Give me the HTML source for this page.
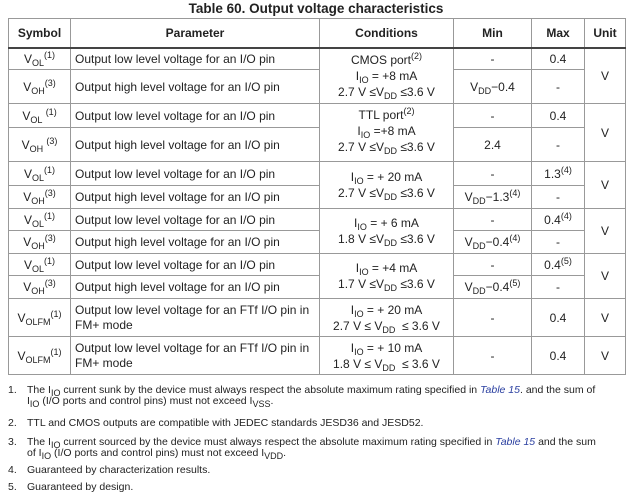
<!DOCTYPE html>
<html><head><meta charset="utf-8"><style>
body{margin:0;width:632px;height:491px;background:#fff;font-family:"Liberation Sans",Arial,sans-serif;color:#222;position:relative;overflow:hidden}
.title{position:absolute;left:0;width:632px;top:0;text-align:center;font-weight:bold;font-size:13.5px;line-height:17px}
table{position:absolute;left:8px;top:18px;border-collapse:collapse;table-layout:fixed;font-size:12px}
td,th{border:1px solid #999;padding:0 4px;text-align:center;vertical-align:middle;line-height:14px;overflow:hidden}
th{font-weight:bold;border-bottom:2px solid #444}
td.p{text-align:left}
sub{font-size:9px;vertical-align:-3px;line-height:0}
sup{font-size:9px;vertical-align:5px;line-height:0}
.notes{position:absolute;left:0;top:380px;font-size:10.5px;line-height:11px;color:#222}
.n{position:absolute;left:8px;white-space:nowrap}
.n span.t{position:absolute;left:19px}
.lk{color:#2a3fa0;font-style:italic}
</style></head><body>
<div class="title">Table 60. Output voltage characteristics</div>
<table>
<colgroup><col style="width:62px"><col style="width:249px"><col style="width:134px"><col style="width:78px"><col style="width:53px"><col style="width:41px"></colgroup>
<tr style="height:29px"><th>Symbol</th><th>Parameter</th><th>Conditions</th><th>Min</th><th>Max</th><th>Unit</th></tr>
<tr style="height:22px"><td>V<sub>OL</sub><sup>(1)</sup></td><td class="p">Output low level voltage for an I/O pin</td><td rowspan="2" style="vertical-align:top;padding-top:3px;line-height:16px">CMOS port<sup>(2)</sup><br>I<sub>IO</sub> = +8 mA<br>2.7 V ≤V<sub>DD</sub> ≤3.6 V</td><td>-</td><td>0.4</td><td rowspan="2">V</td></tr>
<tr style="height:34px"><td>V<sub>OH</sub><sup>(3)</sup></td><td class="p">Output high level voltage for an I/O pin</td><td>V<sub>DD</sub>−0.4</td><td>-</td></tr>
<tr style="height:24px"><td>V<sub>OL</sub> <sup>(1)</sup></td><td class="p">Output low level voltage for an I/O pin</td><td rowspan="2" style="vertical-align:top;padding-top:3px;line-height:16px">TTL port<sup>(2)</sup><br>I<sub>IO</sub> =+8 mA<br>2.7 V ≤V<sub>DD</sub> ≤3.6 V</td><td>-</td><td>0.4</td><td rowspan="2">V</td></tr>
<tr style="height:34px"><td>V<sub>OH</sub> <sup>(3)</sup></td><td class="p">Output high level voltage for an I/O pin</td><td>2.4</td><td>-</td></tr>
<tr style="height:24px"><td>V<sub>OL</sub><sup>(1)</sup></td><td class="p">Output low level voltage for an I/O pin</td><td rowspan="2" style="line-height:16px">I<sub>IO</sub> = + 20 mA<br>2.7 V ≤V<sub>DD</sub> ≤3.6 V</td><td>-</td><td>1.3<sup>(4)</sup></td><td rowspan="2">V</td></tr>
<tr style="height:23px"><td>V<sub>OH</sub><sup>(3)</sup></td><td class="p">Output high level voltage for an I/O pin</td><td>V<sub>DD</sub>−1.3<sup>(4)</sup></td><td>-</td></tr>
<tr style="height:22px"><td>V<sub>OL</sub><sup>(1)</sup></td><td class="p">Output low level voltage for an I/O pin</td><td rowspan="2" style="line-height:16px">I<sub>IO</sub> = + 6 mA<br>1.8 V ≤V<sub>DD</sub> ≤3.6 V</td><td>-</td><td>0.4<sup>(4)</sup></td><td rowspan="2">V</td></tr>
<tr style="height:23px"><td>V<sub>OH</sub><sup>(3)</sup></td><td class="p">Output high level voltage for an I/O pin</td><td>V<sub>DD</sub>−0.4<sup>(4)</sup></td><td>-</td></tr>
<tr style="height:22px"><td>V<sub>OL</sub><sup>(1)</sup></td><td class="p">Output low level voltage for an I/O pin</td><td rowspan="2" style="line-height:16px">I<sub>IO</sub> = +4 mA<br>1.7 V ≤V<sub>DD</sub> ≤3.6 V</td><td>-</td><td>0.4<sup>(5)</sup></td><td rowspan="2">V</td></tr>
<tr style="height:23px"><td>V<sub>OH</sub><sup>(3)</sup></td><td class="p">Output high level voltage for an I/O pin</td><td>V<sub>DD</sub>−0.4<sup>(5)</sup></td><td>-</td></tr>
<tr style="height:38px"><td>V<sub>OLFM</sub><sup>(1)</sup></td><td class="p" style="line-height:15px">Output low level voltage for an FTf I/O pin in FM+ mode</td><td style="line-height:16px">I<sub>IO</sub> = + 20 mA<br>2.7 V ≤ V<sub>DD</sub> &nbsp;≤ 3.6 V</td><td>-</td><td>0.4</td><td>V</td></tr>
<tr style="height:38px"><td>V<sub>OLFM</sub><sup>(1)</sup></td><td class="p" style="line-height:15px">Output low level voltage for an FTf I/O pin in FM+ mode</td><td style="line-height:16px">I<sub>IO</sub> = + 10 mA<br>1.8 V ≤ V<sub>DD</sub> &nbsp;≤ 3.6 V</td><td>-</td><td>0.4</td><td>V</td></tr>
</table>
<div class="notes">
<div class="n" style="top:5px">1.<span class="t">The I<sub>IO</sub> current sunk by the device must always respect the absolute maximum rating specified in <span class="lk">Table 15</span>. and the sum of<br>I<sub>IO</sub> (I/O ports and control pins) must not exceed I<sub>VSS</sub>.</span></div>
<div class="n" style="top:38px">2.<span class="t">TTL and CMOS outputs are compatible with JEDEC standards JESD36 and JESD52.</span></div>
<div class="n" style="top:57px">3.<span class="t">The I<sub>IO</sub> current sourced by the device must always respect the absolute maximum rating specified in <span class="lk">Table 15</span> and the sum<br>of I<sub>IO</sub> (I/O ports and control pins) must not exceed I<sub>VDD</sub>.</span></div>
<div class="n" style="top:85px">4.<span class="t">Guaranteed by characterization results.</span></div>
<div class="n" style="top:102px">5.<span class="t">Guaranteed by design.</span></div>
</div>
</body></html>
